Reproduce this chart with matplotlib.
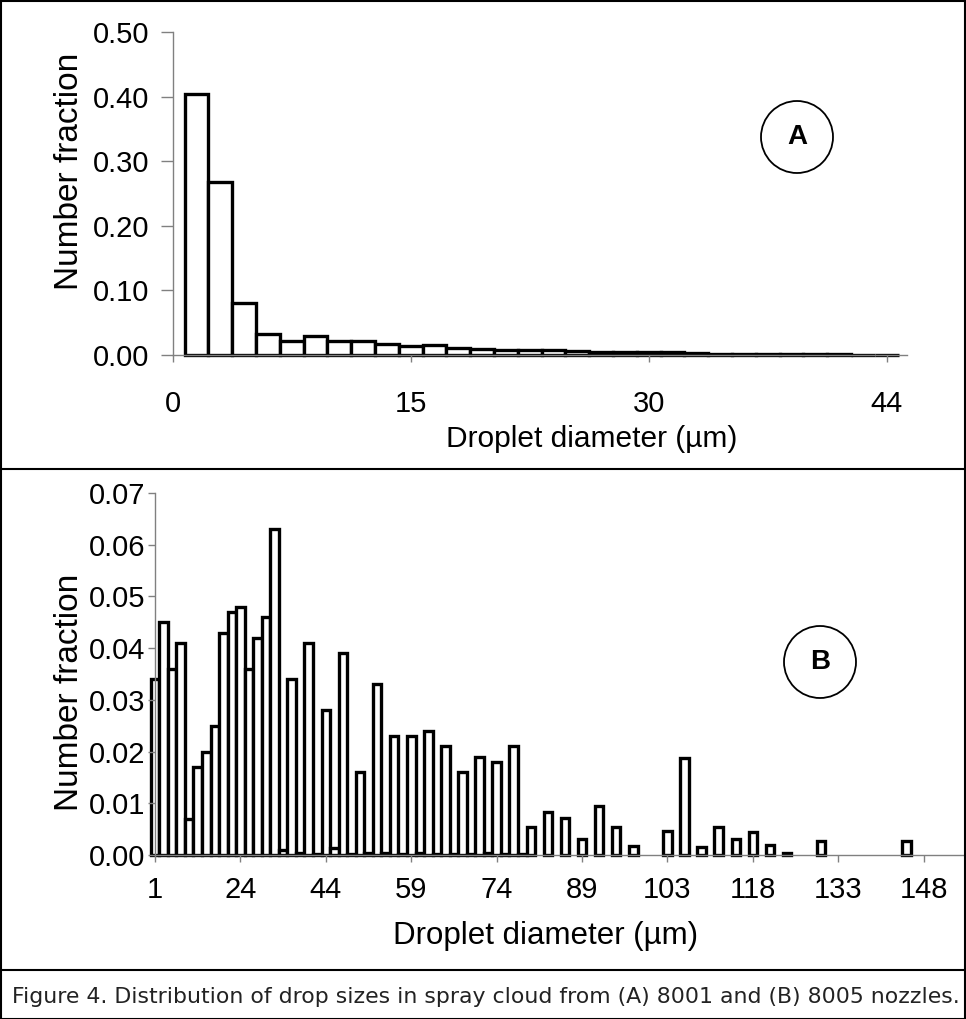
import numpy as np
import matplotlib.pyplot as plt
from matplotlib.lines import Line2D
from matplotlib.patches import Ellipse, Rectangle

# Panel A: droplet number fraction per size class (8001 nozzle)
a_labels = ["0", "15", "30", "44"]
a_values = [0.0, 0.404, 0.268, 0.080, 0.032, 0.022, 0.030, 0.022, 0.021, 0.017,
            0.014, 0.016, 0.011, 0.010, 0.008, 0.008, 0.007, 0.006, 0.004, 0.004,
            0.005, 0.004, 0.003, 0.002, 0.002, 0.002, 0.001, 0.001, 0.001, 0.0005,
            0.0005]

# Panel B: droplet number fraction per size class (8005 nozzle)
b_labels = ["1", "24", "44", "59", "74", "89", "103", "118", "133", "148"]
b_values = [0.034, 0.045, 0.036, 0.041, 0.007, 0.017, 0.020, 0.025, 0.043, 0.047,
            0.048, 0.036, 0.042, 0.046, 0.063, 0.001, 0.034, 0.0003, 0.041, 0.0002,
            0.028, 0.0013, 0.039, 0.0002, 0.016, 0.0003, 0.033, 0.0003, 0.023, 0.0002,
            0.023, 0.0003, 0.024, 0.0002, 0.021, 0.0002, 0.016, 0.0002, 0.019, 0.0003,
            0.018, 0.0002, 0.021, 0.0002, 0.0055, 0, 0.0083, 0, 0.0071, 0,
            0.003, 0, 0.0095, 0, 0.0054, 0, 0.0017, 0, 0, 0,
            0.0047, 0, 0.0187, 0, 0.0016, 0, 0.0055, 0, 0.0031, 0,
            0.0045, 0, 0.0019, 0, 0.0003, 0, 0, 0, 0.0028, 0,
            0, 0, 0, 0, 0, 0, 0, 0, 0.0028, 0,
            0, 0, 0, 0, 0]

plt.rcParams['font.family'] = ['Liberation Sans', 'DejaVu Sans']

W, H = 966, 1019
fig = plt.figure(figsize=(W / 100, H / 100), dpi=100)


def ax_rect(x0, x1, ytop, ybot):
    return [x0 / W, 1 - ybot / H, (x1 - x0) / W, (ybot - ytop) / H]


def fx(px):
    return px / W


def fy(py):
    return 1 - py / H


def style(ax, ymax, ystep, ylen, ypad, xpad):
    for s in ['top', 'right']:
        ax.spines[s].set_visible(False)
    for s in ['left', 'bottom']:
        ax.spines[s].set_color('#808080')
        ax.spines[s].set_linewidth(1.0)
    ax.set_ylim(0, ymax)
    ax.set_yticks(np.arange(0, ymax + ystep / 2, ystep))
    ax.yaxis.set_major_formatter(plt.FuncFormatter(lambda v, p: f"{v:.2f}"))
    ax.tick_params(axis='y', direction='out', length=ylen, width=1, color='#808080',
                   labelsize=21, pad=ypad)
    ax.tick_params(axis='x', direction='out', length=5, width=1, color='#808080',
                   labelsize=21, pad=xpad)
    ax.set_facecolor('none')


def badge(cx, cy, letter, r=36):
    fig.add_artist(Ellipse((fx(cx), fy(cy)), 2 * r / W, 2 * r / H,
                           transform=fig.transFigure, fill=False, lw=1.3, ec='black'))
    fig.text(fx(cx), fy(cy), letter, ha='center', va='center', fontsize=20,
             fontweight='bold')


# ---- panel A
axA = fig.add_axes(ax_rect(172.7, 906.7, 32, 355))
xa = np.arange(len(a_values))
ha = np.array(a_values)
axA.bar(xa[ha > 0], ha[ha > 0], width=1.0, color='white', edgecolor='black',
        linewidth=2.4, clip_on=False)
axA.set_xlim(0, 30.84)
style(axA, 0.50, 0.10, 9, 8, 20)
axA.set_xticks([0, 10, 20, 30])
axA.set_xticklabels(a_labels)
fig.text(fx(592), fy(439), "Droplet diameter (\u00b5m)", fontsize=21.5,
         ha='center', va='center')
fig.text(fx(69), fy(171), "Number fraction", fontsize=24, rotation=90,
         ha='center', va='center')
badge(797, 137, "A")

# ---- panel B
axB = fig.add_axes(ax_rect(155, 963, 493, 855))
xb = np.arange(len(b_values))
hb = np.array(b_values)
axB.bar(xb[hb > 0], hb[hb > 0], width=1.0, color='white', edgecolor='black',
        linewidth=2.4, clip_on=False)
axB.set_xlim(0, 94.6)
style(axB, 0.07, 0.01, 5, 2, 10)
axB.set_xticks(np.arange(0, 91, 10))
axB.set_xticklabels(b_labels)
fig.text(fx(546), fy(936), "Droplet diameter (\u00b5m)", fontsize=22.5,
         ha='center', va='center')
fig.text(fx(69), fy(692), "Number fraction", fontsize=24, rotation=90,
         ha='center', va='center')
badge(820, 662, "B")

# frame and separators
fig.add_artist(Rectangle((0.5 / W, 0.5 / H), (W - 1.5) / W, (H - 1.5) / H,
                         transform=fig.transFigure, fill=False, lw=1.5, ec='black'))
for yy in [469, 970]:
    fig.add_artist(Line2D([0, 1], [fy(yy)] * 2, transform=fig.transFigure,
                          color='black', lw=1.5))

fig.text(fx(12), fy(997), "Figure 4. Distribution of drop sizes in spray cloud "
         "from (A) 8001 and (B) 8005 nozzles.", ha='left', va='center',
         fontsize=15.8, family='DejaVu Sans', color='#222222')

fig.savefig("out.png", dpi=100)
